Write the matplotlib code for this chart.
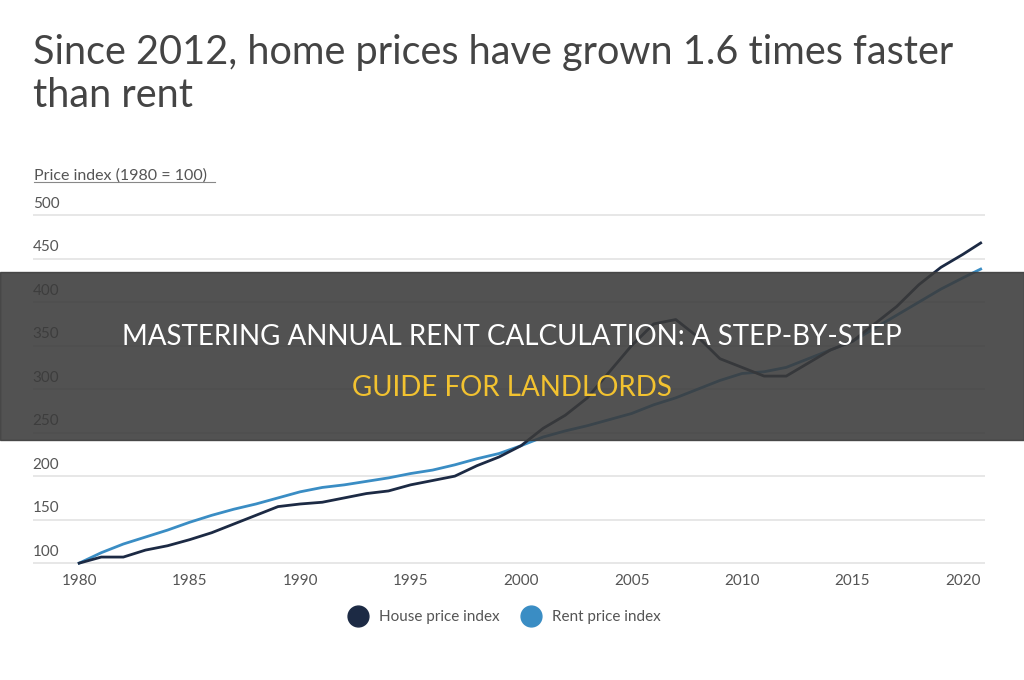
import matplotlib
matplotlib.use('Agg')
import matplotlib.pyplot as plt
from matplotlib.patches import Rectangle
from matplotlib.lines import Line2D

plt.rcParams['font.family'] = ['Lato', 'DejaVu Sans']

years = list(range(1980, 2021)) + [2020.8]
house = [100, 107, 107, 115, 120, 127, 135, 145, 155, 165, 168, 170, 175, 180, 183, 190,
         195, 200, 212, 222, 235, 255, 270, 290, 320, 350, 375, 380, 360, 335, 325, 315,
         315, 330, 345, 355, 375, 395, 420, 440, 455, 468]
rent = [100, 112, 122, 130, 138, 147, 155, 162, 168, 175, 182, 187, 190, 194, 198, 203,
        207, 213, 220, 226, 235, 245, 252, 258, 265, 272, 282, 290, 300, 310, 318, 320,
        325, 335, 345, 355, 370, 385, 400, 415, 428, 438]
yticks = [100, 150, 200, 250, 300, 350, 400, 450, 500]
xticks = [1980, 1985, 1990, 1995, 2000, 2005, 2010, 2015, 2020]

fig = plt.figure(figsize=(10.24, 6.8), dpi=100)
ax = fig.add_axes([0.032, 0.168, 0.93, 0.522])
ax.set_xlim(1977.9, 2021.0)
ax.set_ylim(97, 505)

for v in yticks:
    ax.axhline(v, color='#e3e3e3', lw=1.2, zorder=0)
    ax.text(0.0, v + 5, str(v), transform=ax.get_yaxis_transform(),
            fontsize=11, color='#555555', va='bottom', ha='left')

ax.plot(years, rent, color='#3a8dc4', lw=2)
ax.plot(years, house, color='#1c2a44', lw=2)

ax.set_xticks(xticks)
ax.set_xticklabels([str(x) for x in xticks], fontsize=11, color='#555555')
ax.set_yticks([])
ax.tick_params(axis='x', length=0, pad=6)
for s in ax.spines.values():
    s.set_visible(False)

fig.text(0.032, 0.95, 'Since 2012, home prices have grown 1.6 times faster\nthan rent',
         fontsize=28.5, color='#444444', va='top', linespacing=1.2)
fig.text(0.033, 0.735, 'Price index (1980 = 100)', fontsize=11.5, color='#555555')
fig.add_artist(Line2D([0.033, 0.21], [0.732, 0.732], color='#888888', lw=0.8))

handles = [Line2D([], [], marker='o', ls='', ms=15, color='#1c2a44'),
           Line2D([], [], marker='o', ls='', ms=15, color='#3a8dc4')]
fig.legend(handles, ['House price index', 'Rent price index'], loc='center',
           bbox_to_anchor=(0.49, 0.092), ncol=2, frameon=False, fontsize=11,
           labelcolor='#555555', handletextpad=0.4, columnspacing=1.0)

# dark banner across the middle
fig.add_artist(Rectangle((0, 1 - 440 / 680), 1, 168 / 680, transform=fig.transFigure,
                         color='#3a3a3a', alpha=0.88, zorder=10))
fig.text(0.5, 0.505, 'MASTERING ANNUAL RENT CALCULATION: A STEP-BY-STEP', ha='center',
         va='center', fontsize=20, color='white', zorder=11)
fig.text(0.5, 0.43, 'GUIDE FOR LANDLORDS', ha='center', va='center', fontsize=20,
         color='#f2c230', zorder=11)

fig.savefig('out.png')
